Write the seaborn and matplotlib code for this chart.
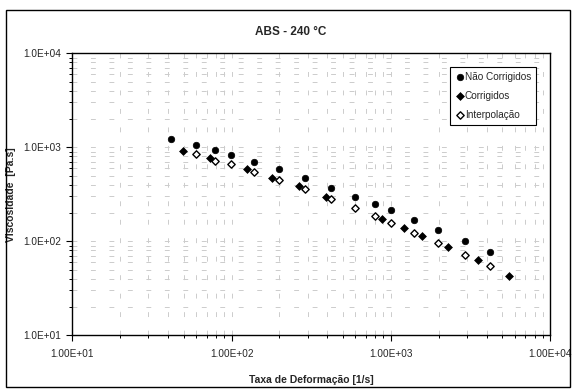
import seaborn as sns
import pandas as pd
import matplotlib
matplotlib.use('Agg')
import matplotlib.pyplot as plt
from matplotlib.ticker import LogLocator, FuncFormatter, NullFormatter
from matplotlib.patches import Rectangle

# dados
taxa_nc = [41.5, 59.6, 79.1, 98.8, 139, 199.5, 288, 419, 599, 799, 1000, 1393, 1987, 2910, 4180]
visc_nc = [1225, 1050, 929, 828, 698, 581, 468, 369, 298, 248, 214, 169, 133, 100.7, 77.4]

taxa_c = [49.8, 72.8, 125, 179, 264, 394, 877, 1211, 1564, 2300, 3515, 5500]
visc_c = [920, 764, 588, 477, 387, 298, 172, 139, 115, 87, 62.8, 42.7]

taxa_i = [59.6, 79.1, 98.8, 139, 199.5, 288, 419, 599, 799, 1000, 1393, 1987, 2910, 4180]
visc_i = [843, 720, 659, 546, 452, 357, 282, 224, 185, 157, 124, 95.9, 72, 54.2]

df_nc = pd.DataFrame({'taxa': taxa_nc, 'visc': visc_nc})
df_c = pd.DataFrame({'taxa': taxa_c, 'visc': visc_c})
df_i = pd.DataFrame({'taxa': taxa_i, 'visc': visc_i})

sns.set_style('white')
plt.rcParams['font.family'] = ['Liberation Sans Narrow', 'Liberation Sans', 'DejaVu Sans']

fig = plt.figure(figsize=(5.73, 3.9), dpi=100)
ax = fig.add_axes([72.3 / 573, 1 - 335.3 / 390, (550 - 72.3) / 573, (335.3 - 53.3) / 390])

sns.scatterplot(data=df_nc, x='taxa', y='visc', ax=ax, marker='o', s=22, color='black',
                edgecolor='black', linewidth=0.5, label='Não Corrigidos', zorder=3)
sns.scatterplot(data=df_c, x='taxa', y='visc', ax=ax, marker='D', s=16, color='black',
                edgecolor='black', linewidth=0.5, label='Corrigidos', zorder=3)
sns.scatterplot(data=df_i, x='taxa', y='visc', ax=ax, marker='D', s=14, color='white',
                edgecolor='black', linewidth=1.0, label='Interpolação', zorder=3)

ax.set_xscale('log')
ax.set_yscale('log')
ax.set_xlim(10, 10000)
ax.set_ylim(10, 10000)

ax.xaxis.set_major_locator(LogLocator(base=10, numticks=10))
ax.xaxis.set_minor_locator(LogLocator(base=10, subs=range(2, 10), numticks=20))
ax.yaxis.set_major_locator(LogLocator(base=10, numticks=10))
ax.yaxis.set_minor_locator(LogLocator(base=10, subs=range(2, 10), numticks=20))
ax.xaxis.set_major_formatter(FuncFormatter(lambda v, p: f'{v:.2E}'))
ax.yaxis.set_major_formatter(FuncFormatter(lambda v, p: f'{v:.1E}'))
ax.xaxis.set_minor_formatter(NullFormatter())
ax.yaxis.set_minor_formatter(NullFormatter())

ax.grid(True, which='both', color='#cccccc', linewidth=0.7, linestyle=(0, (5, 14)))
ax.tick_params(which='major', direction='out', length=4, width=0.8, labelsize=7.2, color='black', pad=4)
ax.tick_params(axis='x', which='major', pad=6)
ax.tick_params(which='minor', direction='out', length=2.5, width=0.7, color='black')
ax.tick_params(axis='x', which='both', bottom=True)
ax.tick_params(axis='y', which='both', left=True)
for s in ax.spines.values():
    s.set_color('black')
    s.set_linewidth(1.0)

ax.set_xlabel('Taxa de Deformação [1/s]', fontsize=7.5, fontweight='bold')
ax.xaxis.set_label_coords(0.5, -(375 - 335.3) / 282)
ax.set_ylabel('Viscosidade  [Pa.s]', fontsize=7.5, fontweight='bold')
ax.yaxis.set_label_coords(-(72.3 - 16) / 477.7, 0.5)
fig.text(291 / 573, 1 - 32 / 390, 'ABS - 240 °C', fontsize=8.5, fontweight='bold',
         ha='center', va='center')

leg = ax.legend(loc='upper right', bbox_to_anchor=((536 - 72.3) / 477.7, 1 - (67 - 53.3) / 282),
                fontsize=7.2, frameon=True, fancybox=False, edgecolor='black', framealpha=1,
                handletextpad=0.0, handlelength=1.0, borderpad=0.5, borderaxespad=0,
                labelspacing=0.9)
leg.get_frame().set_linewidth(0.8)

fig.patches.append(Rectangle((6 / 573, 1 - 387 / 390), 564 / 573, 377 / 390,
                             transform=fig.transFigure, fill=False, edgecolor='black', linewidth=1.0))

fig.savefig('out.png', dpi=100)
